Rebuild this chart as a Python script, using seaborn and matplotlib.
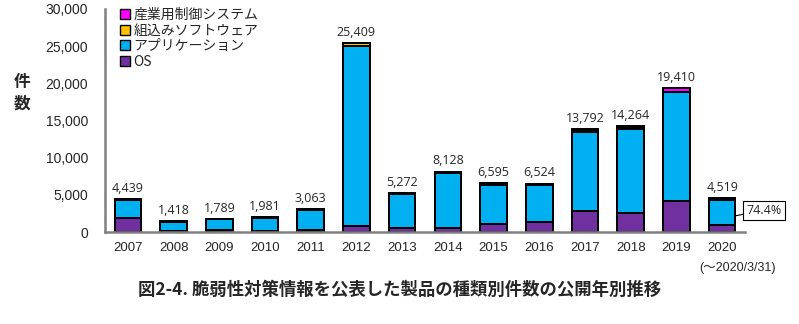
import matplotlib
matplotlib.use("Agg")
import matplotlib.pyplot as plt
import matplotlib.transforms as mtransforms
from matplotlib.patches import Patch
import pandas as pd
import seaborn as sns

# Publication years and per-category counts
years = ["2007", "2008", "2009", "2010", "2011", "2012", "2013",
         "2014", "2015", "2016", "2017", "2018", "2019", "2020"]
os_counts = [1950, 80, 300, 150, 250, 800, 550, 500, 1100, 1400, 2860, 2600, 4200, 1000]
app_counts = [2420, 1300, 1440, 1790, 2700, 24179, 4550, 7400, 5250, 4900, 10622, 11304, 14570, 3362]
embedded_counts = [50, 30, 40, 30, 80, 400, 120, 170, 180, 170, 250, 60, 90, 120]
ics_counts = [19, 8, 9, 11, 33, 30, 52, 58, 65, 54, 60, 300, 550, 37]

labels = ["産業用制御システム", "組込みソフトウェア", "アプリケーション", "OS"]
colors = ["#FF00FF", "#FFC000", "#00B0F0", "#7030A0"]

sns.set_style("white")
plt.rcParams["font.family"] = ["Liberation Sans", "Noto Sans CJK JP", "DejaVu Sans"]

df = pd.DataFrame({"year": years, "os": os_counts, "app": app_counts,
                   "emb": embedded_counts, "ics": ics_counts})
df["c_os"] = df["os"]
df["c_app"] = df["c_os"] + df["app"]
df["c_emb"] = df["c_app"] + df["emb"]
df["total"] = df["c_emb"] + df["ics"]

fig = plt.figure(figsize=(7.99, 3.24), dpi=100)
ax = fig.add_axes([105 / 799, 1 - 232 / 324, 640 / 799, 223 / 324])

bar_w = 0.58
# Stack drawn back-to-front from cumulative heights
for col, color in zip(["total", "c_emb", "c_app", "c_os"], colors):
    sns.barplot(data=df, x="year", y=col, order=years, color=color, saturation=1,
                edgecolor="black", linewidth=1.4, width=bar_w, errorbar=None, ax=ax)

for i, tot in enumerate(df["total"]):
    ax.text(i, tot + 550, f"{tot:,}", ha="center", va="bottom", fontsize=9,
            family=["Open Sans", "DejaVu Sans"])

ax.set_xlim(-0.5, len(years) - 0.5)
ax.set_ylim(0, 30000)
ax.set_yticks(range(0, 30001, 5000))
ax.set_yticklabels([f"{v:,}" for v in range(0, 30001, 5000)], fontsize=10)
ax.set_xlabel("")
ax.set_ylabel("")
ax.tick_params(axis="x", which="major", length=0, labelsize=9.5, pad=7)
ax.set_xticks([i + 0.5 for i in range(-1, len(years))], minor=True)
ax.tick_params(axis="x", which="minor", length=4, color="#808080", width=1.5, direction="out")
ax.tick_params(axis="y", length=4, color="#808080", width=1.5, direction="out", pad=8)
for side in ["top", "right"]:
    ax.spines[side].set_visible(False)
for side in ["left", "bottom"]:
    ax.spines[side].set_color("#808080")
    ax.spines[side].set_linewidth(1.8)

# Y-axis title written vertically
fig.text(22 / 799, 1 - 82 / 324, "件", ha="center", va="center", fontsize=12,
         fontweight="bold", family=["Noto Sans CJK JP"])
fig.text(22 / 799, 1 - 104 / 324, "数", ha="center", va="center", fontsize=12,
         fontweight="bold", family=["Noto Sans CJK JP"])

handles = [Patch(facecolor=c, edgecolor="black", linewidth=1.0) for c in colors]
leg = ax.legend(handles, labels, loc="upper left", bbox_to_anchor=(0.015, 1.03),
                frameon=False, handlelength=0.7, handleheight=0.7, handletextpad=0.25,
                labelspacing=0.12, borderaxespad=0,
                prop={"family": ["Noto Sans CJK JP"], "size": 10})

# Period note under the last year
trans = mtransforms.blended_transform_factory(ax.transData, ax.transAxes)
ax.text(len(years) - 1 + 0.33, -0.135, "(～2020/3/31)", transform=trans, ha="center",
        va="top", fontsize=9, family=["Liberation Sans", "Noto Sans CJK JP"])

# Share of applications in the last year
last = df.iloc[-1]
share = last["app"] / last["total"] * 100
ax.annotate(f"{share:.1f}%", xy=(len(years) - 1 + bar_w / 2, last["os"] + last["app"] * 0.35),
            xytext=(8, 4), textcoords="offset points", ha="left", va="center", fontsize=9,
            family=["Open Sans", "DejaVu Sans"],
            bbox=dict(boxstyle="square,pad=0.25", fc="white", ec="black", lw=0.8),
            arrowprops=dict(arrowstyle="-", color="black", lw=0.8, shrinkA=0, shrinkB=0),
            annotation_clip=False)

fig.text(400 / 799, 1 - 290 / 324, "図2-4. 脆弱性対策情報を公表した製品の種類別件数の公開年別推移",
         ha="center", va="center", fontsize=12.5, fontweight="bold",
         family=["Noto Sans CJK JP"])

fig.savefig("out.png", dpi=100)
